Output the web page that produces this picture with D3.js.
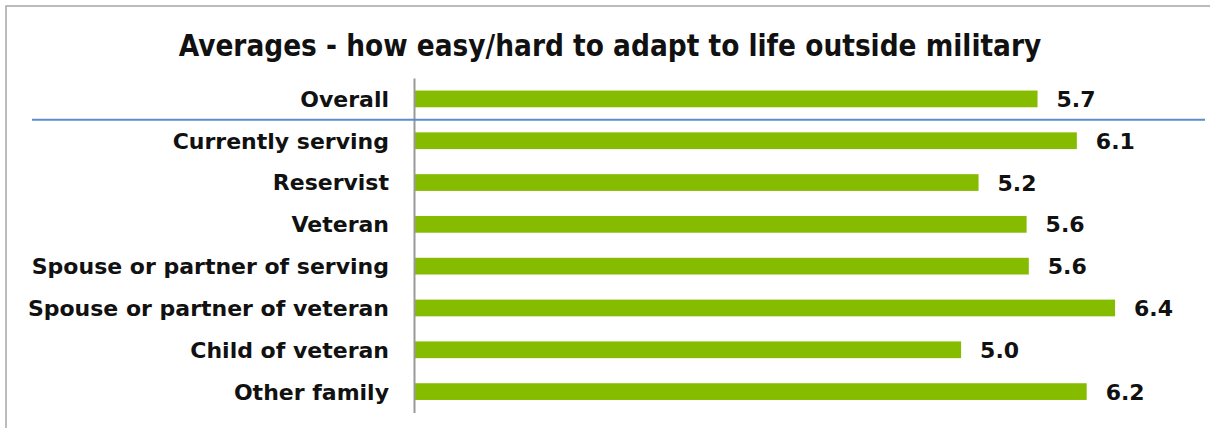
<!DOCTYPE html>
<html>
<head>
<meta charset="utf-8">
<script src="https://cdn.jsdelivr.net/npm/d3@7"></script>
<style>
  body { margin: 0; background: #fff; }
  svg text { font-family: "DejaVu Sans", sans-serif; font-weight: bold; fill: #111; }
  svg text.title { font-family: "DejaVu Sans Condensed", "DejaVu Sans", sans-serif; }
</style>
</head>
<body>
<svg id="chart"></svg>
<script>
// data
var categories = [
  "Overall",
  "Currently serving",
  "Reservist",
  "Veteran",
  "Spouse or partner of serving",
  "Spouse or partner of veteran",
  "Child of veteran",
  "Other family"
];
var averages = [5.71, 6.07, 5.17, 5.61, 5.63, 6.42, 5.01, 6.16];
var chartTitle = "Averages - how easy/hard to adapt to life outside military";

var screen = { width: 1210, height: 428 };
var margins = { top: 78, bottom: 15, left: 414, right: 32 };

var svg = d3.select("#chart").attr("width", screen.width).attr("height", screen.height);

//border of the chart area
svg.append("rect")
  .attr("x", 6).attr("y", 6)
  .attr("width", 1220).attr("height", 440)
  .attr("fill", "none")
  .attr("stroke", "#a6a6a6")
  .attr("stroke-width", 1.5);

//scales
var xScale = d3.scaleLinear().domain([0, 7]).range([margins.left, margins.left + 7 * 109.2]);
var yScale = d3.scaleBand()
  .domain(categories)
  .range([margins.top, 412.5])
  .paddingInner(0.6)
  .paddingOuter(0.3);

//title
svg.append("text")
  .text(chartTitle)
  .classed("title", true)
  .attr("x", 610)
  .attr("y", 56)
  .attr("text-anchor", "middle")
  .style("font-size", "29.4px");

//bars
svg.append("g").selectAll("rect")
  .data(averages)
  .enter()
  .append("rect")
  .attr("x", xScale(0))
  .attr("y", function (d, i) { return yScale(categories[i]); })
  .attr("width", function (d) { return xScale(d) - xScale(0); })
  .attr("height", yScale.bandwidth())
  .attr("fill", "#86bc00");

//value labels
svg.append("g").selectAll("text")
  .data(averages)
  .enter()
  .append("text")
  .text(function (d) { return d.toFixed(1); })
  .attr("x", function (d) { return xScale(d) + 19; })
  .attr("y", function (d, i) { return yScale(categories[i]) + yScale.bandwidth() / 2 + 8; })
  .style("font-size", "22px");

//category axis
var yAxis = d3.axisLeft(yScale).tickSize(0).tickPadding(25);
var axisG = svg.append("g")
  .attr("transform", "translate(" + margins.left + ",0)")
  .call(yAxis);
axisG.select(".domain").attr("stroke", "#999").attr("stroke-width", 2);
axisG.selectAll("text")
  .style("font-size", "22px")
  .attr("fill", "#111")
  .attr("dy", "0.36em");

//blue separator under Overall
var sepY = (yScale("Overall") + yScale.bandwidth() + yScale("Currently serving")) / 2;
svg.append("line")
  .attr("x1", 32).attr("x2", 1205)
  .attr("y1", sepY).attr("y2", sepY)
  .attr("stroke", "#5b8ccb")
  .attr("stroke-width", 2);
</script>
</body>
</html>
